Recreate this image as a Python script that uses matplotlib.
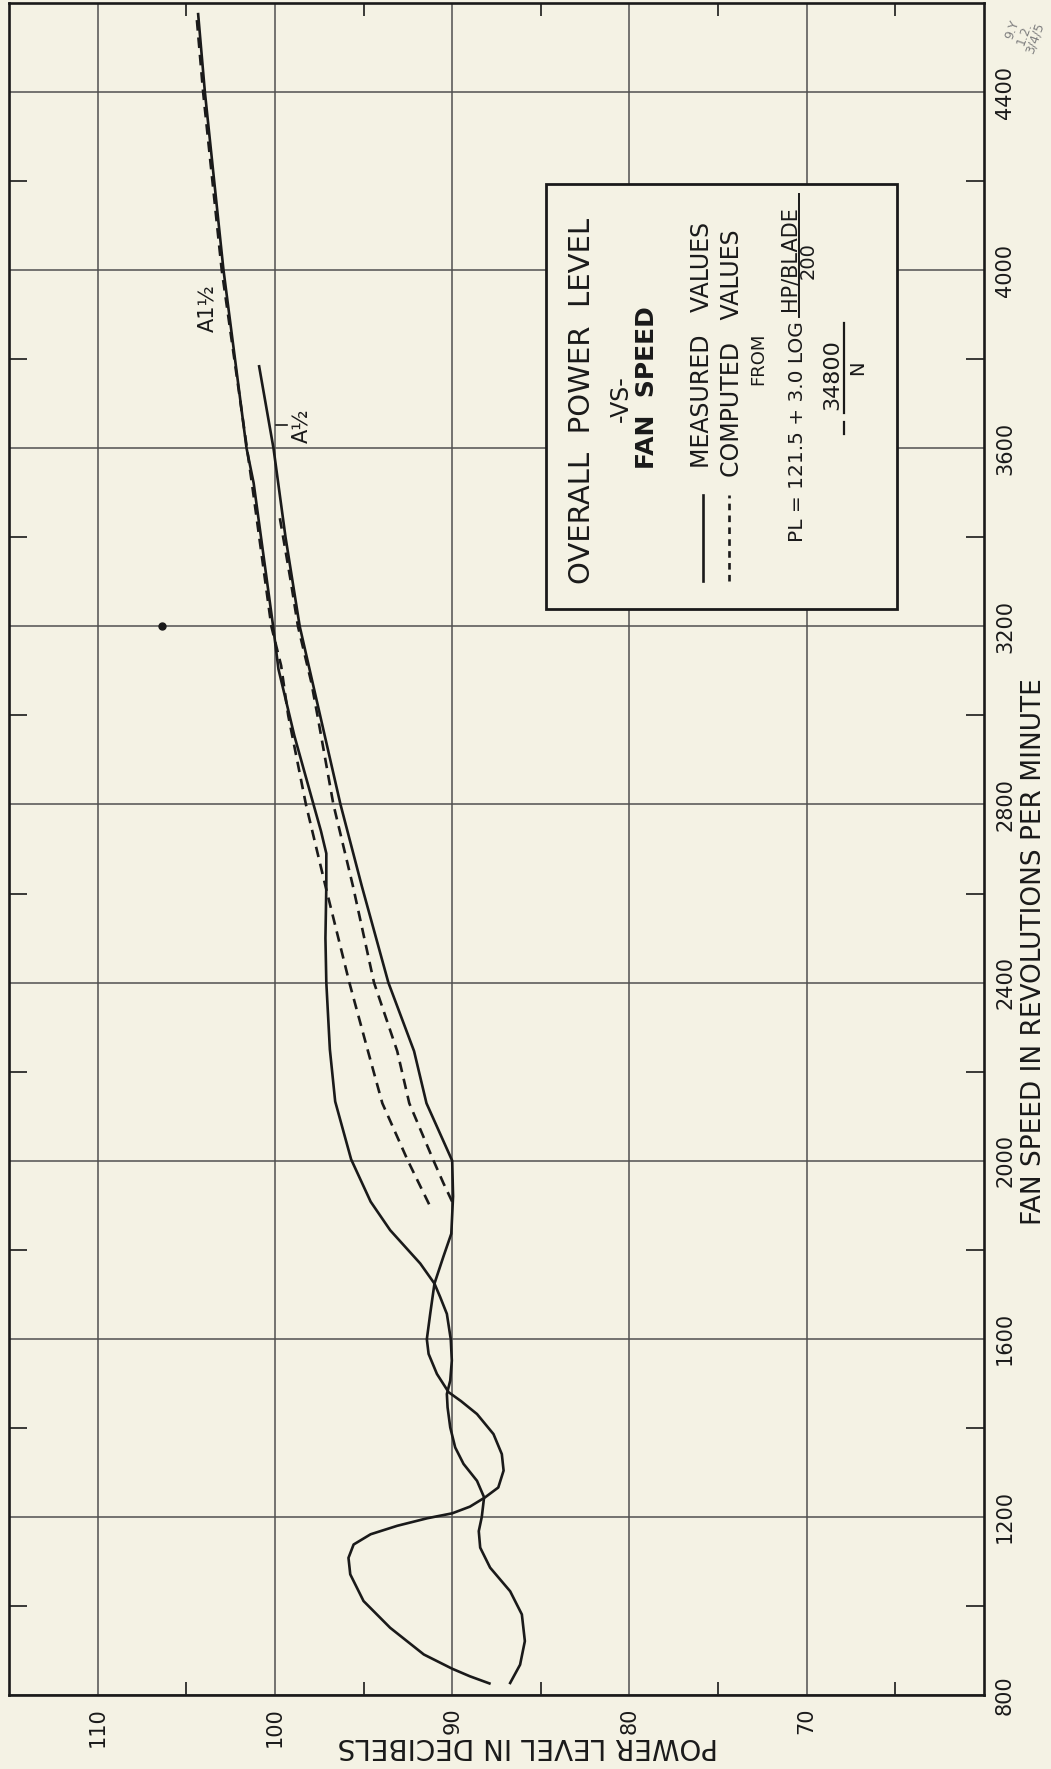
import matplotlib
matplotlib.use("Agg")
import matplotlib.pyplot as plt
from matplotlib.patches import Rectangle

# Overall power level vs fan speed (sheet is drawn turned on its side:
# fan speed runs up the page, power level runs right-to-left).

PAPER = "#f4f2e4"
INK = "#1a1a1a"
GRID = "#505050"

# fan A 1/2, measured
a_half_rpm = [826, 842, 859, 891, 951, 1011, 1071, 1108, 1138, 1161,
              1180, 1197, 1208, 1223, 1244, 1266, 1304, 1341, 1386, 1431,
              1460, 1480, 1521, 1566, 1599, 1656, 1724, 1784, 1836, 1920,
              2000, 2129, 2246, 2400, 2617, 2800, 3000, 3200, 3400, 3600,
              3784]
a_half_db = [87.9, 89.0, 90.0, 91.6, 93.5, 95.0, 95.75, 95.85, 95.56, 94.6,
             93.1, 91.4, 90.0, 89.0, 88.14, 87.4, 87.1, 87.2, 87.67, 88.6,
             89.5, 90.2, 90.86, 91.33, 91.43, 91.24, 91.0, 90.5, 90.05, 89.95,
             90.0, 91.45, 92.15, 93.6, 95.1, 96.3, 97.45, 98.6, 99.4, 100.08,
             100.89]

# fan A 1 1/2, measured
a_one_half_rpm = [827, 868, 921, 981, 1033, 1086, 1131, 1168, 1200, 1244,
                  1281, 1319, 1356, 1401, 1446, 1476, 1506, 1551, 1599, 1656,
                  1694, 1724, 1769, 1844, 1908, 2003, 2133, 2250, 2400, 2500,
                  2617, 2690, 2740, 2804, 2954, 3104, 3200, 3522, 3600, 4000,
                  4400, 4575]
a_one_half_db = [86.73, 86.17, 85.9, 86.07, 86.73, 87.86, 88.42, 88.5, 88.33, 88.2,
                 88.6, 89.36, 89.83, 90.11, 90.26, 90.3, 90.11, 90.02, 90.08, 90.3,
                 90.68, 91.0, 91.8, 93.5, 94.6, 95.7, 96.6, 96.9, 97.1, 97.15,
                 97.1, 97.1, 97.4, 97.85, 98.9, 99.8, 100.1, 101.2, 101.6, 102.9,
                 103.95, 104.33]

# computed values
calc_one_half_rpm = [1902, 2000, 2129, 2246, 2400, 2617, 2800, 3000, 3112, 3200,
                     3522, 4000, 4400, 4575]
calc_one_half_db = [91.3, 92.5, 93.94, 94.75, 95.8, 97.15, 98.25, 99.25, 99.65, 100.2,
                    101.3, 103.0, 104.05, 104.43]
calc_half_rpm = [1908, 1950, 2000, 2129, 2246, 2400, 2617, 2800, 3000, 3075,
                 3200, 3300, 3450]
calc_half_db = [90.0, 90.5, 91.05, 92.42, 93.1, 94.41, 95.6, 96.7, 97.6, 97.95,
                98.7, 99.1, 99.75]

stray_rpm = [3200]
stray_db = [106.35]

db_ticks = [110, 100, 90, 80, 70]
rpm_ticks = [800, 1200, 1600, 2000, 2400, 2800, 3200, 3600, 4000, 4400]


def main():
    W, H = 1051, 1769
    fig = plt.figure(figsize=(W / 100, H / 100), dpi=100, facecolor=PAPER)
    ax = fig.add_axes([9 / W, 1 - 1695 / H, 975 / W, 1692 / H])
    ax.set_facecolor(PAPER)
    ax.set_xlim(115, 60)
    ax.set_ylim(800, 4600)

    ax.set_xticks(db_ticks)
    ax.set_xticklabels([str(t) for t in db_ticks])
    ax.set_xticks([105, 95, 85, 75, 65], minor=True)
    ax.set_yticks(rpm_ticks)
    ax.set_yticklabels([str(t) for t in rpm_ticks])
    ax.set_yticks(list(range(1000, 4600, 400)), minor=True)
    ax.grid(True, which="major", color=GRID, lw=1.1)
    ax.set_axisbelow(True)

    ax.tick_params(axis="x", which="major", length=0, pad=9, labelsize=15,
                   labelrotation=90, colors=INK)
    ax.tick_params(axis="y", which="major", length=0, pad=8, labelsize=15,
                   labelrotation=90, left=False, labelleft=False,
                   right=True, labelright=True, colors=INK)
    ax.tick_params(axis="x", which="minor", direction="in", length=9.5,
                   width=1.2, top=True, bottom=True, color=INK)
    ax.tick_params(axis="y", which="minor", direction="in", length=13,
                   width=1.2, left=True, right=True, color=INK)
    for lab in ax.get_yticklabels():
        lab.set_verticalalignment("center")
    for sp in ax.spines.values():
        sp.set_linewidth(1.9)
        sp.set_color(INK)

    lw = 1.9
    ax.plot(a_half_db, a_half_rpm, color=INK, lw=lw, solid_joinstyle="round")
    ax.plot(a_one_half_db, a_one_half_rpm, color=INK, lw=lw, solid_joinstyle="round")
    ax.plot(calc_one_half_db, calc_one_half_rpm, color=INK, lw=lw,
            linestyle=(0, (4, 2.6)))
    ax.plot(calc_half_db, calc_half_rpm, color=INK, lw=lw,
            linestyle=(0, (4, 2.6)))
    ax.plot(stray_db, stray_rpm, "o", color=INK, ms=5)

    ax.text(103.8, 3915, "A1½", rotation=90, ha="center", va="center",
            fontsize=15, color=INK)
    ax.text(98.5, 3650, "A½", rotation=90, ha="center", va="center",
            fontsize=15, color=INK)
    ax.plot([99.95, 99.3], [3652, 3652], color=INK, lw=1.2)

    # title / legend box
    ax.add_patch(Rectangle((84.7, 3240), -19.8, 954, facecolor=PAPER,
                           edgecolor=INK, lw=2.0, zorder=3))
    kw = dict(rotation=90, ha="center", va="center", color=INK, zorder=4)
    ax.text(82.7, 3707, "OVERALL  POWER  LEVEL", fontsize=21, **kw)
    ax.text(80.5, 3711, "-VS-", fontsize=17, **kw)
    ax.text(79.0, 3736, "FAN  SPEED", fontsize=18, fontweight="bold", **kw)
    ax.plot([75.85, 75.85], [3303, 3494], color=INK, lw=lw, zorder=4)
    ax.plot([74.4, 74.4], [3303, 3494], color=INK, lw=lw,
            linestyle=(0, (2.5, 2)), zorder=4)
    ax.text(75.9, 3556, "MEASURED   VALUES", fontsize=17, rotation=90,
            ha="center", va="bottom", color=INK, zorder=4)
    ax.text(74.2, 3535, "COMPUTED   VALUES", fontsize=17, rotation=90,
            ha="center", va="bottom", color=INK, zorder=4)
    ax.text(72.75, 3801, "FROM", fontsize=13, **kw)
    ax.text(70.5, 3637, "PL = 121.5 + 3.0 LOG", fontsize=14.5, **kw)
    ax.text(70.95, 4026, "HP/BLADE", fontsize=15, **kw)
    ax.plot([70.45, 70.45], [3895, 4170], color=INK, lw=1.4, zorder=4)
    ax.text(69.9, 4021, "200", fontsize=14, **kw)
    ax.text(68.55, 3765, "34800", fontsize=16, **kw)
    ax.plot([67.9, 67.9], [3680, 3882], color=INK, lw=1.6, zorder=4)
    ax.plot([67.9, 67.9], [3633, 3660], color=INK, lw=1.6, zorder=4)
    ax.text(67.15, 3780, "N", fontsize=14, **kw)

    fig.text(528 / W, 1 - 1746 / H, "POWER LEVEL IN DECIBELS", rotation=180,
             ha="center", va="center", fontsize=20, color=INK)
    fig.text(1034 / W, 0.462, "FAN SPEED IN REVOLUTIONS PER MINUTE",
             rotation=90, ha="center", va="center", fontsize=19, color=INK)
    fig.text(1024 / W, 1 - 34 / H, "9.Y\n1.2.\n3/4/5", rotation=70,
             ha="center", va="center", fontsize=9, color="#808080",
             linespacing=0.9)

    fig.savefig("out.png", dpi=100, facecolor=PAPER)


if __name__ == "__main__":
    main()
